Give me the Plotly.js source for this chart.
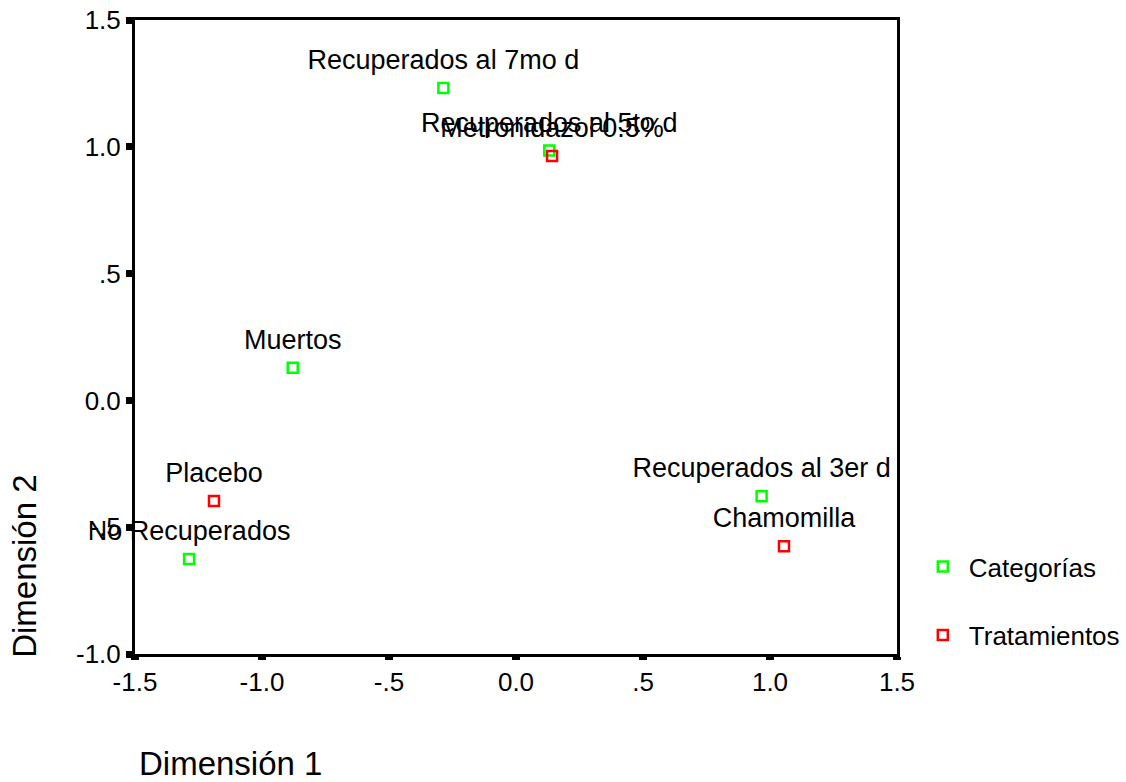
<!DOCTYPE html>
<html>
<head>
<meta charset="utf-8">
<script src="https://cdn.plot.ly/plotly-3.0.1.min.js"></script>
<style>
  html, body { margin: 0; padding: 0; background: #ffffff; }
  #chart { width: 1126px; height: 782px; }
</style>
</head>
<body>
<div id="chart"></div>
<script>
// Categorías (green)
const catLabels = ["Recuperados al 7mo d", "Recuperados al 5to d", "Muertos", "No Recuperados", "Recuperados al 3er d"];
const catX = [-0.286, 0.131, -0.879, -1.287, 0.967];
const catY = [1.232, 0.985, 0.129, -0.625, -0.378];

// Tratamientos (red)
const trtLabels = ["Metronidazol 0.5%", "Placebo", "Chamomilla"];
const trtX = [0.142, -1.189, 1.055];
const trtY = [0.964, -0.397, -0.575];

// Tick labels
const xTickVals = [-1.5, -1.0, -0.5, 0.0, 0.5, 1.0, 1.5];
const xTickText = ["-1.5", "-1.0", "-.5", "0.0", ".5", "1.0", "1.5"];
const yTickVals = [-1.0, -0.5, 0.0, 0.5, 1.0, 1.5];
const yTickText = ["-1.0", "-.5", "0.0", ".5", "1.0", "1.5"];

const FONT = "Arial, 'Liberation Sans', sans-serif";
const GREEN = "#00FF00";
const RED = "#FF0000";

function markerStyle(c) {
  return { symbol: "square-open", size: 10, color: c, line: { color: c, width: 2.5 } };
}
// invisible spacer marker used only to offset the point labels
const labelMarker = { symbol: "square", size: 18, color: "rgba(0,0,0,0)", line: { width: 0 } };

const traces = [
  { x: catX, y: catY, type: "scatter", text: catLabels,
    textposition: "top center", textfont: { family: FONT, size: 27, color: "#000" },
    mode: "markers+text", marker: labelMarker, showlegend: false, hoverinfo: "skip", cliponaxis: false },
  { x: trtX, y: trtY, type: "scatter", text: trtLabels,
    textposition: "top center", textfont: { family: FONT, size: 27, color: "#000" },
    mode: "markers+text", marker: labelMarker, showlegend: false, hoverinfo: "skip", cliponaxis: false },
  { x: catX, y: catY, type: "scatter", mode: "markers", name: "Categorías",
    marker: markerStyle(GREEN), legend: "legend", hoverinfo: "skip", cliponaxis: false },
  { x: trtX, y: trtY, type: "scatter", mode: "markers", name: "Tratamientos",
    marker: markerStyle(RED), legend: "legend2", hoverinfo: "skip", cliponaxis: false }
];

const legendCommon = {
  xanchor: "left", yanchor: "middle", x: 1.026, itemwidth: 42,
  font: { family: FONT, size: 26, color: "#000" },
  bgcolor: "rgba(0,0,0,0)", borderwidth: 0
};

const layout = {
  width: 1126, height: 782,
  margin: { l: 135, r: 229, t: 20, b: 128, pad: 0, autoexpand: false },
  paper_bgcolor: "#ffffff", plot_bgcolor: "#ffffff",
  font: { family: FONT, color: "#000" },
  xaxis: {
    range: [-1.5, 1.5], tickmode: "array", tickvals: xTickVals, ticktext: xTickText,
    showgrid: false, zeroline: false, showline: true, linecolor: "#000", linewidth: 3, mirror: true,
    ticks: "outside", ticklen: 3, tickwidth: 8, tickcolor: "#000",
    tickfont: { family: FONT, size: 26, color: "#000" }
  },
  yaxis: {
    range: [-1.0, 1.5], tickmode: "array", tickvals: yTickVals, ticktext: yTickText,
    showgrid: false, zeroline: false, showline: true, linecolor: "#000", linewidth: 3, mirror: true,
    ticks: "outside", ticklen: 6, tickwidth: 7, tickcolor: "#000",
    tickfont: { family: FONT, size: 26, color: "#000" }
  },
  legend: Object.assign({}, legendCommon, { y: 0.1377 }),
  legend2: Object.assign({}, legendCommon, { y: 0.030 }),
  annotations: [
    { text: "Dimensión 1", xref: "paper", yref: "paper", x: 0.1247, y: -0.173,
      xanchor: "center", yanchor: "middle", showarrow: false,
      font: { family: FONT, size: 33, color: "#000" } },
    { text: "Dimensión 2", xref: "paper", yref: "paper", x: -0.1444, y: 0.139,
      xanchor: "center", yanchor: "middle", textangle: -90, showarrow: false,
      font: { family: FONT, size: 33, color: "#000" } }
  ],
  showlegend: true
};

Plotly.newPlot("chart", traces, layout, { displayModeBar: false, staticPlot: true });
</script>
</body>
</html>
